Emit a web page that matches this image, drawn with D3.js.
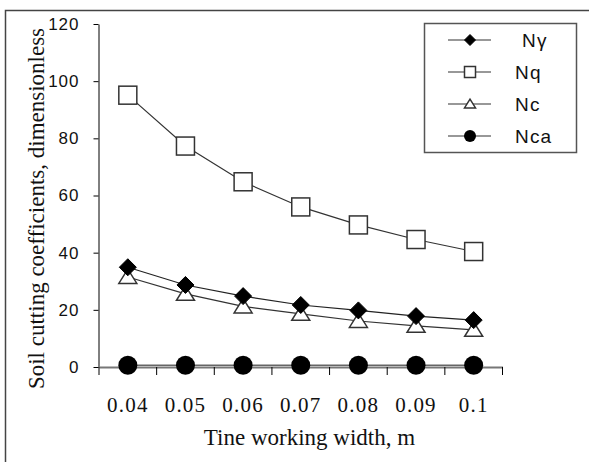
<!DOCTYPE html>
<html>
<head>
<meta charset="utf-8">
<script src="https://cdn.jsdelivr.net/npm/d3@7"></script>
<style>
  body { margin: 0; background: #fff; }
  svg { display: block; }
</style>
</head>
<body>
<svg id="chart" width="589" height="462"></svg>
<script>
"use strict";
// data
var widths = ["0.04", "0.05", "0.06", "0.07", "0.08", "0.09", "0.1"];
var nGamma = [34.9, 28.7, 24.8, 21.7, 19.8, 17.8, 16.4];
var nQ = [95.1, 77.3, 64.8, 56.0, 49.7, 44.6, 40.4];
var nC = [31.5, 25.6, 21.2, 18.6, 16.1, 14.4, 13.0];
var nCa = [0.6, 0.6, 0.6, 0.6, 0.6, 0.6, 0.6];
var yTicks = [0, 20, 40, 60, 80, 100, 120];
var seriesNames = ["N\u03b3", "Nq", "Nc", "Nca"];

var svg = d3.select("#chart");
var serif = "'Liberation Serif', 'Times New Roman', serif";
var sans = "'Liberation Sans', Arial, sans-serif";

// outer frame (only top and left edges visible in the picture)
svg.append("rect")
    .attr("x", 5.5).attr("y", 10.5)
    .attr("width", 700).attr("height", 600)
    .attr("fill", "none").attr("stroke", "#444").attr("stroke-width", 1.5);

var x = d3.scaleBand().domain(widths).range([99, 502.5]).padding(0);
var y = d3.scaleLinear().domain([0, 120]).range([367, 24]);
var bw = x.bandwidth();
var cx = function (d, i) { return x(widths[i]) + bw / 2; };

// y axis
var yAxis = svg.append("g")
    .attr("transform", "translate(98.5,0)")
    .call(d3.axisLeft(y).tickValues(yTicks).tickSize(5).tickSizeOuter(0).tickPadding(14));
yAxis.select(".domain").attr("stroke", "#000");
yAxis.selectAll(".tick line").attr("stroke", "#000");
yAxis.selectAll(".tick text")
    .attr("font-family", sans).attr("font-size", 17)
    .attr("letter-spacing", 1).attr("fill", "#111");

// x axis, ticks between the categories
var xAxis = svg.append("g")
    .attr("transform", "translate(0,367)")
    .call(d3.axisBottom(x).tickSize(8).tickSizeOuter(0));
xAxis.select(".domain").attr("stroke", "#777").attr("stroke-width", 2);
xAxis.selectAll(".tick line")
    .attr("x1", -bw / 2).attr("x2", -bw / 2).attr("stroke", "#000");
xAxis.append("line")
    .attr("x1", x.range()[1]).attr("x2", x.range()[1])
    .attr("y1", 0).attr("y2", 8).attr("stroke", "#000");
xAxis.selectAll(".tick text")
    .attr("y", 45).attr("dy", 0)
    .attr("font-family", serif).attr("font-size", 21)
    .attr("letter-spacing", 1.2).attr("fill", "#111");

// axis titles
svg.append("text")
    .attr("x", 309.5).attr("y", 445)
    .attr("text-anchor", "middle")
    .attr("font-family", serif).attr("font-size", 23).attr("fill", "#111")
    .text("Tine working width, m");
svg.append("text")
    .attr("transform", "translate(44,208.5) rotate(-90)")
    .attr("text-anchor", "middle")
    .attr("font-family", serif).attr("font-size", 23).attr("fill", "#111")
    .text("Soil cutting coefficients, dimensionless");

var line = d3.line().x(cx).y(function (d) { return y(d); });

function drawLine(values, color, width) {
    svg.append("path")
        .datum(values)
        .attr("d", line)
        .attr("fill", "none")
        .attr("stroke", color)
        .attr("stroke-width", width);
}

// marker shapes, size is the full width in px
function marker(g, kind, s) {
    var h = s / 2;
    if (kind === "diamond") {
        g.append("path").attr("d", "M0," + (-h) + "L" + h + ",0L0," + h + "L" + (-h) + ",0Z")
            .attr("fill", "#000").attr("stroke", "#000");
    } else if (kind === "square") {
        g.append("rect").attr("x", -h).attr("y", -h).attr("width", s).attr("height", s)
            .attr("fill", "#fff").attr("stroke", "#333").attr("stroke-width", 1.5);
    } else if (kind === "triangle") {
        var th = s * 0.8;
        g.append("path").attr("d", "M0," + (-th * 0.55) + "L" + h + "," + (th * 0.45) + "L" + (-h) + "," + (th * 0.45) + "Z")
            .attr("fill", "#fff").attr("stroke", "#333").attr("stroke-width", 1.5);
    } else {
        g.append("circle").attr("r", h).attr("fill", "#000");
    }
}

function drawMarkers(values, kind, s) {
    values.forEach(function (v, i) {
        var g = svg.append("g")
            .attr("transform", "translate(" + cx(v, i) + "," + y(v) + ")");
        marker(g, kind, s);
    });
}

drawLine(nCa, "#666", 1.5);
drawLine(nC, "#333", 1.2);
drawLine(nGamma, "#222", 1.2);
drawLine(nQ, "#333", 1.2);

drawMarkers(nC, "triangle", 18);
drawMarkers(nGamma, "diamond", 17);
drawMarkers(nQ, "square", 18);
drawMarkers(nCa, "circle", 19);

// legend
var legend = svg.append("g");
legend.append("rect")
    .attr("x", 424.5).attr("y", 23.5).attr("width", 152).attr("height", 129)
    .attr("fill", "#fff").attr("stroke", "#555").attr("stroke-width", 1.5);
var kinds = ["diamond", "square", "triangle", "circle"];
var sizes = [11, 11, 11, 12];
var rowY = [40, 72, 104, 136];
var textX = [522, 515, 515, 515];
seriesNames.forEach(function (name, i) {
    var r = legend.append("g").attr("transform", "translate(0," + rowY[i] + ")");
    r.append("line").attr("x1", 448).attr("x2", 491).attr("y1", 0).attr("y2", 0)
        .attr("stroke", "#333").attr("stroke-width", 1.2);
    marker(r.append("g").attr("transform", "translate(470,0)"), kinds[i], sizes[i]);
    r.append("text")
        .attr("x", textX[i]).attr("y", 7)
        .attr("font-family", sans).attr("font-size", 19)
        .attr("letter-spacing", 1.2).attr("fill", "#111")
        .text(name);
});
</script>
</body>
</html>
